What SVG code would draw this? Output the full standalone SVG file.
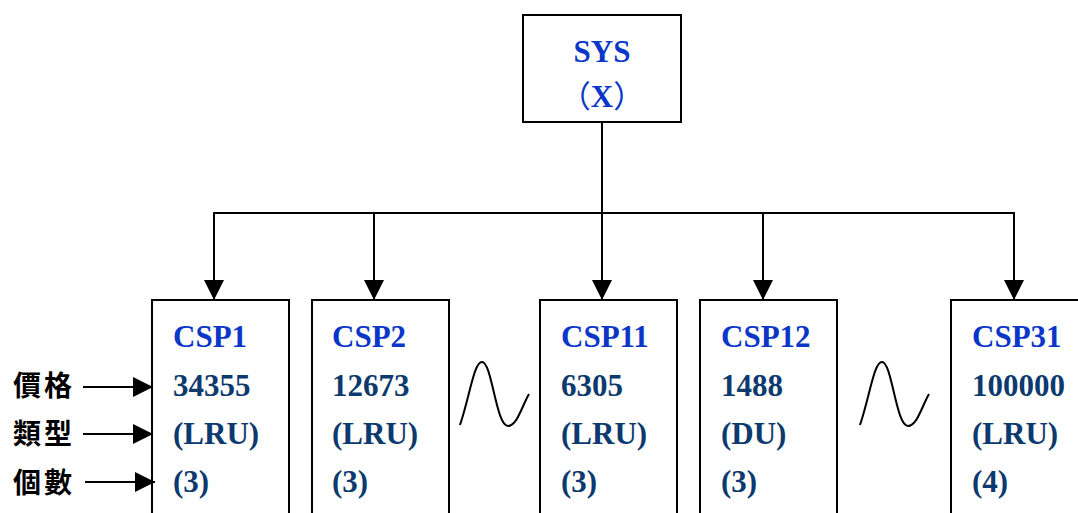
<svg xmlns="http://www.w3.org/2000/svg" width="1078" height="513" viewBox="0 0 1078 513">
  <style>
    .box { fill: #fff; stroke: #000; stroke-width: 2; }
    .wire { fill: none; stroke: #000; stroke-width: 2; }
    .title { font-family: "Liberation Serif", "Noto Sans CJK TC", serif; font-weight: bold; font-size: 31px; fill: #0a37c8; }
    .val { font-family: "Liberation Serif", serif; font-weight: bold; font-size: 31px; fill: #0d3a6e; }
    .lbl { font-family: "Noto Sans CJK TC", sans-serif; font-weight: bold; font-size: 28px; fill: #000; letter-spacing: 3px; }
    .paren { font-family: "Noto Sans CJK TC", sans-serif; font-weight: normal; }
  </style>
  <defs>
    <marker id="arrow" viewBox="0 0 20 20" refX="20" refY="10" markerWidth="20" markerHeight="20" markerUnits="userSpaceOnUse" orient="auto">
      <path d="M0,0 L20,10 L0,20 Z" fill="#000"/>
    </marker>
  </defs>

  <!-- root node -->
  <g id="sys">
    <rect class="box" x="523" y="15" width="158" height="107"/>
    <text class="title" x="602" y="62" text-anchor="middle">SYS</text>
    <text class="title" x="602" y="107" text-anchor="middle"><tspan class="paren">（</tspan>X<tspan class="paren">）</tspan></text>
  </g>

  <!-- child nodes -->
  <g id="csp1">
    <rect class="box" x="152" y="300" width="137" height="230"/>
    <text class="title" x="173" y="347">CSP1</text>
    <text class="val" x="173" y="396">34355</text>
    <text class="val" x="173" y="444">(LRU)</text>
    <text class="val" x="173" y="492">(3)</text>
  </g>
  <g id="csp2">
    <rect class="box" x="312" y="300" width="137" height="230"/>
    <text class="title" x="332" y="347">CSP2</text>
    <text class="val" x="332" y="396">12673</text>
    <text class="val" x="332" y="444">(LRU)</text>
    <text class="val" x="332" y="492">(3)</text>
  </g>
  <g id="csp11">
    <rect class="box" x="540" y="300" width="137" height="230"/>
    <text class="title" x="561" y="347">CSP11</text>
    <text class="val" x="561" y="396">6305</text>
    <text class="val" x="561" y="444">(LRU)</text>
    <text class="val" x="561" y="492">(3)</text>
  </g>
  <g id="csp12">
    <rect class="box" x="700" y="300" width="137" height="230"/>
    <text class="title" x="721" y="347">CSP12</text>
    <text class="val" x="721" y="396">1488</text>
    <text class="val" x="721" y="444">(DU)</text>
    <text class="val" x="721" y="492">(3)</text>
  </g>
  <g id="csp31">
    <rect class="box" x="951" y="300" width="137" height="230"/>
    <text class="title" x="972" y="347">CSP31</text>
    <text class="val" x="972" y="396">100000</text>
    <text class="val" x="972" y="444">(LRU)</text>
    <text class="val" x="972" y="492">(4)</text>
  </g>

  <!-- elision marks between nodes -->
  <g id="gap1">
    <path class="wire" d="M460,425 C470,395 474,362 482,362 C492,362 496,426 508,426 C517,426 522,406 529,394"/>
  </g>
  <g id="gap2">
    <path class="wire" d="M860,425 C870,395 874,362 882,362 C892,362 896,426 908,426 C917,426 922,406 929,394"/>
  </g>

  <!-- row labels -->
  <g id="labels">
    <text class="lbl" x="13" y="396">價格</text>
    <text class="lbl" x="13" y="444">類型</text>
    <text class="lbl" x="13" y="493">個數</text>
  </g>

  <!-- connectors -->
  <g id="connectors">
    <line class="wire" x1="602" y1="122" x2="602" y2="213"/>
    <line class="wire" x1="213" y1="213" x2="1014" y2="213"/>
    <line class="wire" x1="214" y1="212" x2="214" y2="300" marker-end="url(#arrow)"/>
    <line class="wire" x1="374" y1="212" x2="374" y2="300" marker-end="url(#arrow)"/>
    <line class="wire" x1="602" y1="212" x2="602" y2="300" marker-end="url(#arrow)"/>
    <line class="wire" x1="763" y1="212" x2="763" y2="300" marker-end="url(#arrow)"/>
    <line class="wire" x1="1014" y1="212" x2="1014" y2="300" marker-end="url(#arrow)"/>
    <line class="wire" x1="83" y1="387" x2="153" y2="387" marker-end="url(#arrow)"/>
    <line class="wire" x1="83" y1="434" x2="153" y2="434" marker-end="url(#arrow)"/>
    <line class="wire" x1="85" y1="482" x2="155" y2="482" marker-end="url(#arrow)"/>
  </g>
</svg>
